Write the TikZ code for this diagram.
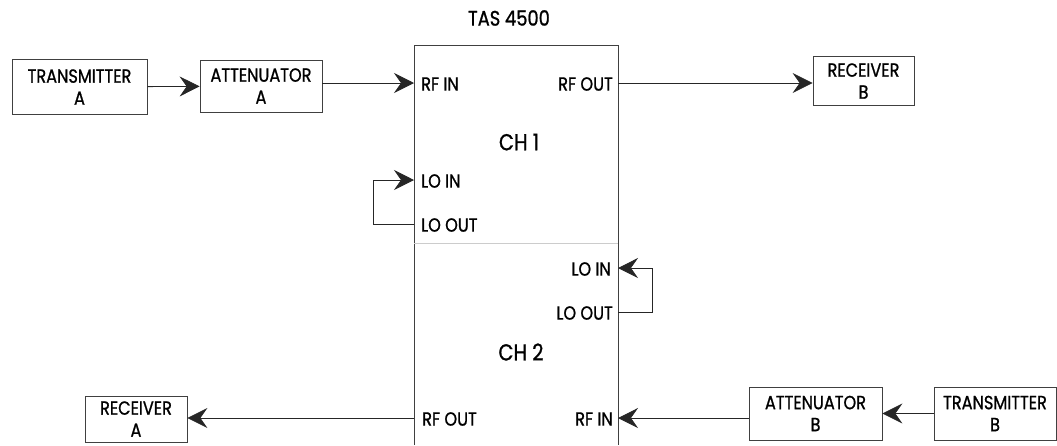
\documentclass[tikz,border=0pt]{standalone}
\usepackage{fontspec}
\setmainfont{Poppins}[FakeStretch=0.85,FakeBold=1]
\usetikzlibrary{arrows.meta}

\tikzset{
  unit/.style={draw=black!75,line width=0.8pt,inner sep=0pt,align=center,
    font=\fontsize{19}{22}\selectfont},
  port/.style={inner sep=0pt,font=\fontsize{19}{21}\selectfont},
  chan/.style={inner sep=0pt,font=\fontsize{23}{25}\selectfont},
  sig/.style={draw=black!85,line width=0.8pt,-{Stealth[length=20pt,width=20pt,inset=7pt]}},
  wire/.style={draw=black!85,line width=0.8pt}
}

\begin{document}
\begin{tikzpicture}[x=1pt,y=-1pt]
\useasboundingbox (0,0) rectangle (1057,445);
% TAS 4500 frame, cut off at the bottom
\draw[black!75,line width=0.8pt] (414,445) -- (414,45) -- (618,45) -- (618,445);
\draw[black!20,line width=0.8pt] (414,243) -- (618,243);
\node[chan,font=\fontsize{21}{23}\selectfont] (tas) at (509,18) {TAS 4500};
\node[chan] (ch1) at (519,142) {CH 1};
\node[chan] (ch2) at (521,352) {CH 2};

% ports on the frame
\coordinate (rfin1) at (414,83);
\coordinate (rfout1) at (618,83);
\coordinate (loin1) at (414,180);
\coordinate (loout1) at (414,224);
\coordinate (loin2) at (618,268);
\coordinate (loout2) at (618,312);
\coordinate (rfout2) at (414,418);
\coordinate (rfin2) at (618,418);
\node[port,anchor=west] (rfin1l) at (421,84) {RF IN};
\node[port,anchor=east] (rfout1l) at (613,84) {RF OUT};
\node[port,anchor=west] (loin1l) at (421,181) {LO IN};
\node[port,anchor=west] (loout1l) at (421,225) {LO OUT};
\node[port,anchor=east] (loin2l) at (611,269) {LO IN};
\node[port,anchor=east] (loout2l) at (613,313) {LO OUT};
\node[port,anchor=west] (rfout2l) at (422,419) {RF OUT};
\node[port,anchor=east] (rfin2l) at (613,419) {RF IN};

% outside units
\node[unit,minimum width=135,minimum height=55] (txa) at (79.5,87) {TRANSMITTER\\A};
\node[unit,minimum width=122,minimum height=52] (atta) at (261,86) {ATTENUATOR\\A};
\node[unit,minimum width=101,minimum height=49] (rxb) at (863.5,81) {RECEIVER\\B};
\node[unit,minimum width=102,minimum height=46] (rxa) at (136,419) {RECEIVER\\A};
\node[unit,minimum width=133,minimum height=53] (attb) at (815.5,413.5) {ATTENUATOR\\B};
\node[unit,minimum width=122,minimum height=53] (txb) at (995,413.5) {TRANSMITTER\\B};

% signal paths
\draw[sig] (txa) -- (atta);
\draw[sig] (atta.east |- rfin1) -- (rfin1);
\draw[sig] (rfout1) -- (rxb.west |- rfout1);
\draw[sig] (loout1) -- ++(-41,0) |- (loin1);
\draw[sig] (loout2) -- ++(34,0) |- (loin2);
\draw[sig] (txb) -- (attb);
\draw[sig] (attb.west |- rfin2) -- (rfin2);
\draw[sig] (rfout2) -- (rxa.east |- rfout2);
\end{tikzpicture}
\end{document}
